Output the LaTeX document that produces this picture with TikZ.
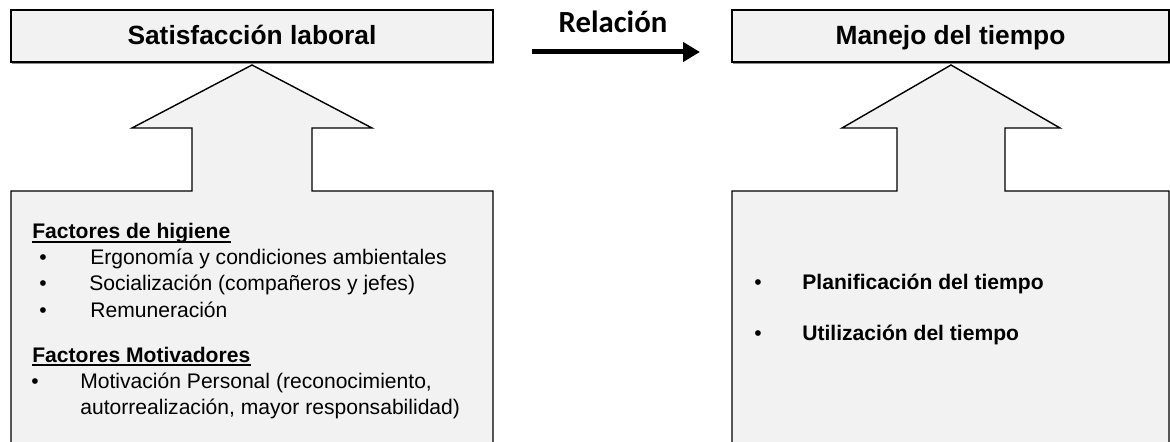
\documentclass[tikz,border=0pt]{standalone}
\usepackage{fontspec}
\setmainfont{Liberation Sans}
\newfontfamily\relfont{Carlito}
\usetikzlibrary{arrows.meta,shadows}
\definecolor{boxgray}{HTML}{F2F2F2}
\newcommand\bodysize{\fontsize{12}{14}\selectfont}
\tikzset{
  titlebox/.style={draw,line width=1pt,fill=boxgray,minimum height=1.04cm,
    text height=0.4cm,text depth=0.04cm,inner sep=0pt,
    font=\fontsize{15}{18}\selectfont\bfseries,
    drop shadow={shadow xshift=0.02cm,shadow yshift=-0.04cm,fill=black,opacity=0.45}},
  outline/.style={line width=0.8pt,line join=miter},
  txt/.style={anchor=base west,inner sep=0pt},
  btxt/.style={txt,font=\bodysize\bfseries},
  bul/.style={anchor=base,inner sep=0pt},
  relarrow/.style={line width=0.1cm,-{Triangle[length=0.34cm,width=0.38cm]}},
  uline/.style={line width=0.04cm}
}
\begin{document}
\begin{tikzpicture}[x=0.02cm,y=-0.02cm,font=\bodysize]
  \useasboundingbox (0,0) rectangle (1170,442);

  % box with arrow on top
  \foreach \l/\r/\sl/\sr/\hl/\hr in {11/493/192/312/132/372,732/1169/897/1005/842/1060}{
    \fill[boxgray] (\l,442) -- (\l,191) -- (\sl,191) -- (\sl,128) -- (\hl,128) -- ({(\hl+\hr)/2},65)
      -- (\hr,128) -- (\sr,128) -- (\sr,191) -- (\r,191) -- (\r,442) -- cycle;
    \draw[outline] (\l,446) -- (\l,191) -- (\sl,191) -- (\sl,128) -- (\hl,128) -- ({(\hl+\hr)/2},65)
      -- (\hr,128) -- (\sr,128) -- (\sr,191) -- (\r,191) -- (\r,446);}

  \node[titlebox,minimum width=9.64cm] (sat) at (252,36) {Satisfacción laboral};
  \node[titlebox,minimum width=8.74cm] (tiempo) at (950.5,36) {Manejo del tiempo};

  \node[bul,font=\relfont\bfseries\fontsize{17.5}{20}\selectfont] (rel) at (613,33) {Relación};
  \coordinate (relA) at (532,52);
  \coordinate (relB) at (700,52);
  \draw[relarrow] (relA) -- (relB);

  % left list
  \node[btxt] (hig) at (32,239) {Factores de higiene};
  \draw[uline] ([yshift=-0.054cm]hig.base west) -- ([yshift=-0.054cm]hig.base east);
  \foreach \t/\x [count=\i] in {Ergonomía y condiciones ambientales/90,Socialización (compañeros y jefes)/89,Remuneración/90}{
    \node[bul] (hb\i) at (43,{239+26*\i}) {\textbullet};
    \node[txt] (hi\i) at (\x,{239+26*\i}) {\t};}

  \node[btxt] (mot) at (32,362) {Factores Motivadores};
  \draw[uline] ([yshift=-0.054cm]mot.base west) -- ([yshift=-0.054cm]mot.base east);
  \node[bul] (mb) at (35,388) {\textbullet};
  \node[txt] (mi1) at (80,388) {Motivación Personal (reconocimiento,};
  \node[txt] (mi2) at (80,414) {autorrealización, mayor responsabilidad)};

  % right list
  \node[bul] (pb) at (758,290) {\textbullet};
  \node[btxt] (plan) at (802,290) {Planificación del tiempo};
  \node[bul] (ub) at (758,340) {\textbullet};
  \node[btxt] (util) at (802,340) {Utilización del tiempo};
\end{tikzpicture}
\end{document}
